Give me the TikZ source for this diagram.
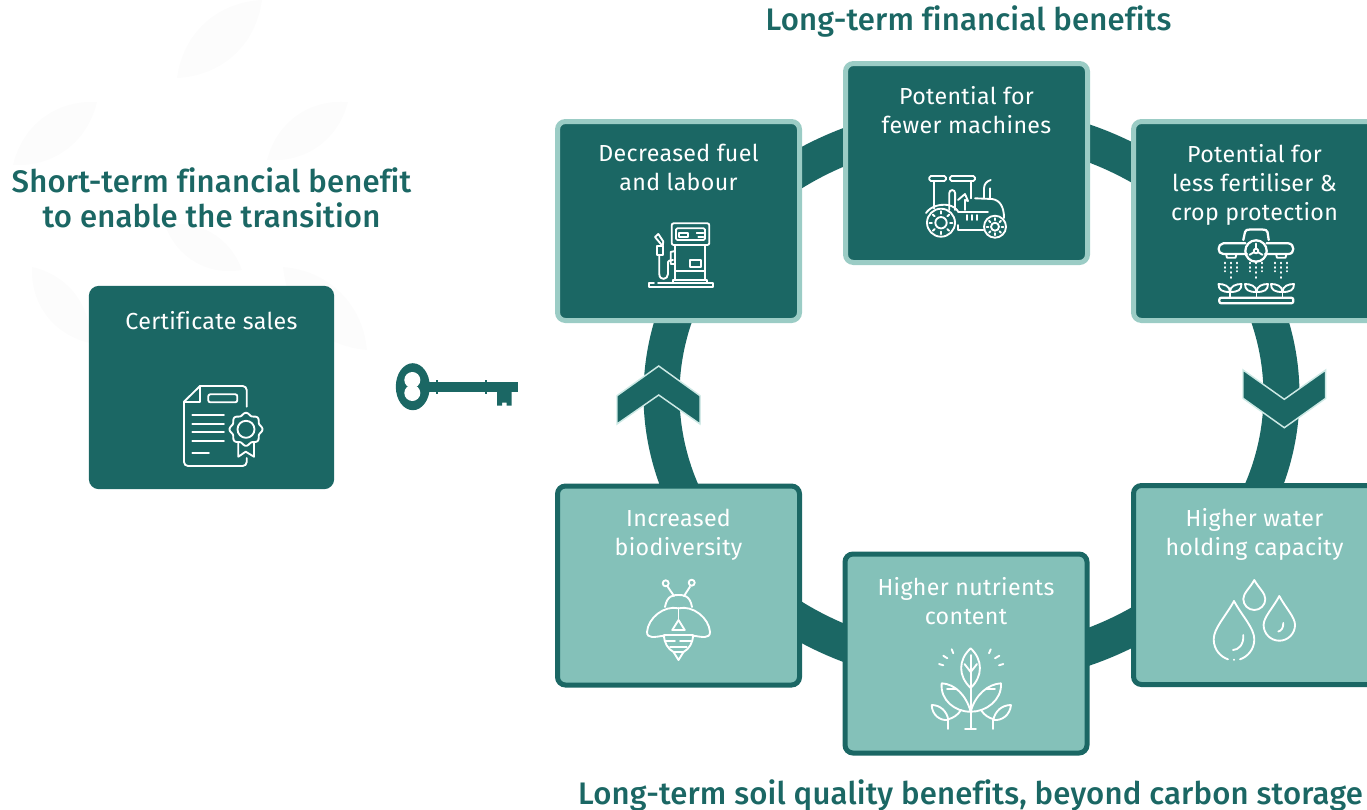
\documentclass[tikz,border=0pt]{standalone}
\usepackage{fontspec}
\usepackage{xcolor}
\setmainfont{Fira Sans}[LetterSpace=1.5,Ligatures=NoCommon]
\newfontfamily\headfont{Fira Sans Medium}[LetterSpace=0.5,Ligatures=NoCommon]
\usetikzlibrary{positioning,backgrounds,calc}

\definecolor{tealdark}{HTML}{1B6764}
\definecolor{teallight}{HTML}{84C1B9}
\definecolor{tealrim}{HTML}{9BCCC5}
\definecolor{chevronrim}{HTML}{CDE9E5}
\definecolor{leafgrey}{HTML}{FCFCFC}

\newcommand{\boxlines}[1]{\parbox[c][140pt][t]{176pt}{\vspace*{12.6pt}\centering\fontsize{17.4}{21.75}\selectfont\color{white}#1}}

\begin{document}
\begin{tikzpicture}[
    x=0.75pt, y=-0.75pt,
    box/.style={rectangle, rounded corners=6pt, line width=3.75pt, inner sep=0pt, minimum width=181.5pt, minimum height=149.25pt},
    darkbox/.style={box, draw=tealrim, fill=tealdark},
    lightbox/.style={box, draw=tealdark, fill=teallight},
    plainbox/.style={box, draw=none, rounded corners=7.5pt, fill=tealdark, minimum width=184pt, minimum height=152.5pt},
    headline/.style={font=\headfont\fontsize{23.35}{26.25}\selectfont, text=tealdark, align=center, inner sep=0pt},
    ringline/.style={draw=tealdark, line width=27pt, line join=round, x radius=310, y radius=272},
    chevron/.style={draw=chevronrim, fill=tealdark, line width=1.1pt, line join=miter},
    icon/.style={draw=white, line width=1.4pt, line cap=round, line join=round},
    keyshape/.style={fill=tealdark, draw=none},
    leafbg/.style={fill=leafgrey, draw=none},
]
\useasboundingbox (0,0) rectangle (1367,810);

% Headlines
\node[headline] (headtop) at (968.5,21) {Long-term financial benefits};
\node[headline] (headleft) at (211.5,198) {Short-term financial benefit\\to enable the transition};
\node[headline] (headbottom) at (970.5,795) {Long-term soil quality benefits, beyond carbon storage};

% Boxes
\node[plainbox] (cert) at (211.5,387.5) {\boxlines{Certificate sales}};
\node[darkbox] (fuel) at (678.5,221) {\boxlines{Decreased fuel\\and labour}};
\node[darkbox] (machines) at (966.5,163) {\boxlines{Potential for\\fewer machines}};
\node[darkbox] (fert) at (1254.5,221) {\boxlines{Potential for\\less fertiliser \&\\crop protection}};
\node[lightbox] (water) at (1254.5,585) {\boxlines{Higher water\\holding capacity}};
\node[lightbox] (nutrients) at (966,653.5) {\boxlines{Higher nutrients\\content}};
\node[lightbox] (biodiv) at (678.5,585.5) {\boxlines{Increased\\biodiversity}};

% Ring behind the boxes
\coordinate (ringc) at (971.5,395);
\begin{scope}[on background layer]
\draw[ringline] (fuel.center) -- ($(ringc)+(-130:310 and 272)$) arc[start angle=-130, end angle=-105] -- (machines.center);
\draw[ringline] (machines.center) -- ($(ringc)+(-75:310 and 272)$) arc[start angle=-75, end angle=-50] -- (fert.center);
\draw[ringline] (fert.center) -- ($(ringc)+(-25:310 and 272)$) arc[start angle=-25, end angle=28] -- (water.center);
\draw[ringline] (water.center) -- ($(ringc)+(50:310 and 272)$) arc[start angle=50, end angle=75] -- (nutrients.center);
\draw[ringline] (nutrients.center) -- ($(ringc)+(105:310 and 272)$) arc[start angle=105, end angle=130] -- (biodiv.center);
\draw[ringline] (biodiv.center) -- ($(ringc)+(150:310 and 272)$) arc[start angle=150, end angle=200] -- (fuel.center);

% Faint leaves
\fill[leafbg] (177,78) to[bend left=40] (262,0) to[bend left=40] cycle;
\fill[leafbg] (13,165) to[bend left=40] (97,102) to[bend left=40] cycle;
\fill[leafbg] (267,160) to[bend left=40] (348,102) to[bend left=40] cycle;
\fill[leafbg] (165,225) to[bend left=40] (242,270) to[bend left=40] cycle;
\fill[leafbg] (32,267) to[bend left=40] (90,343) to[bend left=40] cycle;
\fill[leafbg] (283,267) to[bend left=40] (367,350) to[bend left=40] cycle;
\end{scope}

% Chevrons on the ring
\draw[chevron] (658.7,366) -- (700,395.7) -- (700,424) -- (658.7,395) -- (617,424) -- (617,395.7) -- cycle;
\draw[chevron] (1243,370) -- (1284.3,399.3) -- (1325.7,370) -- (1325.7,398.3) -- (1284.3,427.7) -- (1243,398.3) -- cycle;

% Key
\fill[keyshape] (412.8,386.7) ellipse [x radius=17, y radius=23.5];
\fill[keyshape] (428,381.7) rectangle (518,391.7);
\fill[keyshape] (436,379.5) rectangle (438,393.5);
\fill[keyshape] (485,379.5) rectangle (487,393.5);
\fill[keyshape] (497,391) -- (511.5,391) -- (511.5,405.5) -- (506.5,405.5) -- (506.5,402.5) -- (502,402.5) -- (502,405.5) -- (497,405.5) -- cycle;
\fill[white] (412.3,380) circle (8);
\fill[white] (412.3,393) circle (8);

% Icon: certificate
\draw[icon] (246.7,406.7) -- (246.7,390) arc[start angle=0, end angle=-90, radius=4] -- (200,386) -- (184,401.7) -- (184,462) arc[start angle=180, end angle=90, radius=4] -- (242.7,466) arc[start angle=90, end angle=0, radius=4] -- (246.7,458);
\draw[icon] (200,386) -- (200,401.7) -- (184,401.7);
\draw[icon, rounded corners=1.5pt] (208.3,394.3) rectangle (237.3,402.3);
\draw[icon] (192.3,415.3) -- (224,415.3);
\draw[icon] (192.3,424) -- (224,424);
\draw[icon] (192.3,432.3) -- (224,432.3);
\draw[icon] (192.3,440.7) -- (224,440.7);
\draw[icon] (192.3,453.3) -- (209,453.3);
\draw[icon] plot[domain=0:360, samples=97] ({246+(15.3+1.2*cos(8*\x))*cos(\x)},{429.3+(15.3+1.2*cos(8*\x))*sin(\x)});
\draw[icon] (246,429.3) circle (8.5);
\draw[icon] (238.3,443.3) -- (238.3,456.7) -- (245.7,451.7) -- (254,456.7) -- (254,443.3);

% Icon: fuel pump
\draw[icon, rounded corners=1.5pt] (671.7,223.3) rectangle (709.3,245);
\draw[icon, rounded corners=1pt] (676,228.3) rectangle (705,240);
\draw[icon] (679.3,232.7) rectangle (688.3,236.7);
\draw[icon] (696.7,233.3) -- (703.3,233.3);
\draw[icon] (698.3,236.7) -- (703.3,236.7);
\draw[icon] (675,245) -- (675,280);
\draw[icon] (705,245) -- (705,280);
\draw[icon] (690,260) rectangle (700.7,266.7);
\draw[icon] (675,270.7) -- (705,270.7);
\draw[icon] (673.3,282.7) -- (673.3,280) -- (707.3,280) -- (707.3,282.7);
\draw[icon] (658,282.7) -- (713.3,282.7) -- (713.3,287.3) -- (649.3,287.3) -- (649.3,282.7) -- (654,282.7);
\draw[icon] (656.7,246) rectangle (662.7,255);
\draw[icon] (661.7,245) -- (655,237) -- (658.3,234) -- (663.3,241.5) -- (662.7,246);
\draw[icon] (659.3,255) -- (659.3,274) .. controls (659.3,281) and (668,280) .. (668,274) -- (668,262) .. controls (668,261) and (670,260) .. (673,260);
\draw[icon] (670.7,252) -- (675,251) -- (675,264) -- (670.7,264) -- cycle;

% Icon: tractor
\draw[icon, rounded corners=1.2pt] (929.3,176) rectangle (946,181);
\draw[icon, rounded corners=1.2pt] (950,176) rectangle (975,181);
\draw[icon] (934,181) -- (934,208.3);
\draw[icon] (971,181) -- (971,198.3);
\draw[icon] (949.3,210) -- (949.3,193) arc[start angle=180, end angle=360, radius=2.9] -- (955,210);
\draw[icon] (958,200) -- (965,194) -- (968,201) -- (965,200) -- (965,210);
\draw[icon] (975,198.3) -- (992,199) .. controls (1000,200) and (1004,207) .. (1004,218);
\draw[icon] (984,198.3) -- (984,188.3) .. controls (984,184) and (987,181) .. (990.7,180);
\draw[icon] (990,198.3) -- (990,188.3);
\draw[icon] (926,213) .. controls (931,206) and (940,204) .. (948,205) .. controls (953,206) and (957,209) .. (958.3,212) -- (988,212);
\draw[icon] (958.3,225) -- (958.3,230) -- (983.3,230);
\draw[icon] (966.7,215) -- (966.7,220);
\draw[icon] (971.7,215) -- (971.7,220);
\draw[icon] (976.7,215) -- (976.7,220);
\draw[icon] (941,222.7) circle (14);
\draw[icon] (941,222.7) circle (5.7);
\draw[icon] (995,226.7) circle (11);
\draw[icon] (995,226.7) circle (4);
\foreach \a in {0,45,...,315} {
    \draw[icon] (941,222.7)+(\a:9) -- +(\a:11.5);
    \draw[icon] (995,226.7)+(\a:6.5) -- +(\a:8.5);
}

% Icon: sprayer
\draw[icon, line width=1.7pt] (1256,251) circle (10.7);
\draw[icon] (1256,251) circle (2.3);
\draw[icon] (1256,248.7) -- (1256,243.5);
\draw[icon] (1258,252.2) -- (1262.5,254.8);
\draw[icon] (1254,252.2) -- (1249.5,254.8);
\draw[icon, line width=1.7pt] (1243.3,240) -- (1245,232) .. controls (1245.5,230) and (1247,229.5) .. (1250,229.5) -- (1262,229.5) .. controls (1265,229.5) and (1267,230) .. (1267.5,232) -- (1268.7,240);
\draw[icon, line width=1.7pt] (1245.5,243.3) -- (1223.3,243.3) .. controls (1217,244) and (1217,254) .. (1223.3,254) -- (1247,254);
\draw[icon, line width=1.7pt] (1266.5,243.3) -- (1288.3,243.3) .. controls (1295,244) and (1295,254) .. (1288.3,254) -- (1265,254);
\draw[icon] (1226,254) -- (1227,257.7) -- (1235.5,257.7) -- (1236.5,254);
\draw[icon] (1276,254) -- (1277,257.7) -- (1285.5,257.7) -- (1286.5,254);
\foreach \cx in {1231,1256,1281} {
    \foreach \dx in {-6,0,6} {
        \draw[icon] (\cx+\dx,262.5) -- (\cx+\dx,263.5);
        \draw[icon] (\cx+\dx,267) -- (\cx+\dx,268);
    }
    \draw[icon] (\cx-6,271) -- (\cx-6,271.5);
    \draw[icon] (\cx+6,271) -- (\cx+6,271.5);
    \draw[icon] (\cx,272) -- (\cx,273);
    \draw[icon] (\cx,277) -- (\cx,278);
}
\foreach \cx in {1230,1256.5,1282.5} {
    \draw[icon] (\cx,292) .. controls (\cx-8,292) and (\cx-11.5,290) .. (\cx-11.5,284) .. controls (\cx-6,284) and (\cx,286) .. (\cx,292);
    \draw[icon] (\cx,292) .. controls (\cx+8,292) and (\cx+11.5,290) .. (\cx+11.5,284) .. controls (\cx+6,284) and (\cx,286) .. (\cx,292);
    \draw[icon] (\cx,292) -- (\cx,297.7);
}
\draw[icon, line width=1.7pt, rounded corners=1.5pt] (1219.3,297.7) rectangle (1293.3,303.3);

% Icon: drops
\draw[icon] (1234,601) .. controls (1226,616) and (1213.7,628) .. (1213.7,639.3) .. controls (1213.7,650) and (1221,657) .. (1228,659.3);
\draw[icon] (1234,601) .. controls (1242,616) and (1254.3,628) .. (1254.3,639.3) .. controls (1254.3,650) and (1247,657) .. (1240,659.3);
\draw[icon] (1234,659.5) -- (1234,660);
\draw[icon] (1243.3,635) .. controls (1244,645) and (1238,650) .. (1233,650);
\draw[icon] (1279.3,596) .. controls (1273,608) and (1263.6,617) .. (1263.6,625) arc[start angle=180, end angle=0, radius=15.7] .. controls (1295,617) and (1285.6,608) .. (1279.3,596);
\draw[icon] (1283.3,623) .. controls (1283.5,628) and (1281,631) .. (1278.3,631.5);
\draw[icon] (1254.3,580) .. controls (1250,588) and (1243.3,593) .. (1243.3,599) arc[start angle=180, end angle=0, radius=11] .. controls (1265.3,593) and (1258.6,588) .. (1254.3,580);

% Icon: plant
\draw[icon] (970.7,648.3) .. controls (958,660) and (958,676) .. (970.7,688) .. controls (983,676) and (983,660) .. (970.7,648.3);
\draw[icon] (970.7,655) -- (970.7,729);
\draw[icon] (965,729) -- (976,729);
\draw[icon] (970.7,672) -- (964.5,664);
\draw[icon] (970.7,672) -- (977,664);
\draw[icon] (941.7,683.3) .. controls (940,700) and (955,712) .. (970.7,711.7) .. controls (966,695) and (955,684) .. (941.7,683.3);
\draw[icon] (1001,683.3) .. controls (1002,700) and (986,712) .. (970.7,711.7) .. controls (975,695) and (988,684) .. (1001,683.3);
\draw[icon] (947,689) -- (956,689);
\draw[icon] (995,689) -- (986,689);
\draw[icon] (931.7,705) .. controls (932,715) and (940,721) .. (948.3,720) .. controls (947,711) and (940,705) .. (931.7,705);
\draw[icon] (1011,705) .. controls (1010,715) and (1002,721) .. (993.3,720) .. controls (995,711) and (1002,705) .. (1011,705);
\draw[icon] (948.3,720) -- (948.3,729);
\draw[icon] (993.3,720) -- (993.3,729);
\draw[icon] (961,710) .. controls (958,715) and (953,718) .. (949,719);
\draw[icon] (981,710) .. controls (984,715) and (989,718) .. (993,719);
\draw[icon] (951.7,649.3) -- (953.3,653.3);
\draw[icon] (943.3,655.7) -- (947.3,658.3);
\draw[icon] (939,664) -- (943.3,665.3);
\draw[icon] (990.7,649.3) -- (989,653.3);
\draw[icon] (999.3,655.7) -- (995,658.3);
\draw[icon] (1003.3,664) -- (999,665.3);

% Icon: bee
\draw[icon] (665.7,583.3) circle (3);
\draw[icon] (691.7,582.7) circle (3);
\draw[icon] (667.7,586.7) -- (674,596);
\draw[icon] (690,586.7) -- (684,596);
\draw[icon] (665,607) .. controls (667,595) and (674,595) .. (678.5,595) .. controls (683,595) and (690,595) .. (692,607);
\draw[icon] (678.5,608.3) .. controls (664,605) and (648,618) .. (647,632) .. controls (647,639) and (655,637) .. (663.5,635.7);
\draw[icon] (678.5,608.3) .. controls (693,605) and (709,618) .. (710,632) .. controls (710,639) and (702,637) .. (693.5,635.7);
\draw[icon] (678.5,608.3) -- (678.5,620);
\draw[icon] (672.3,630) -- (678.5,620) -- (684.7,630);
\draw[icon] (672.3,630) -- (684.7,630);
\draw[icon] (664.3,635) -- (692.7,635);
\draw[icon] (665.7,640.7) -- (675,640.7);
\draw[icon] (680,640.7) -- (691,640.7);
\draw[icon] (670,647) -- (686.7,647);
\draw[icon] (664,635) .. controls (664,643) and (668,649) .. (673.5,652) -- (678.5,660) -- (683.5,652) .. controls (689,649) and (693,643) .. (693,635);
\draw[icon] (673.5,652) -- (683.5,652);

\end{tikzpicture}
\end{document}
